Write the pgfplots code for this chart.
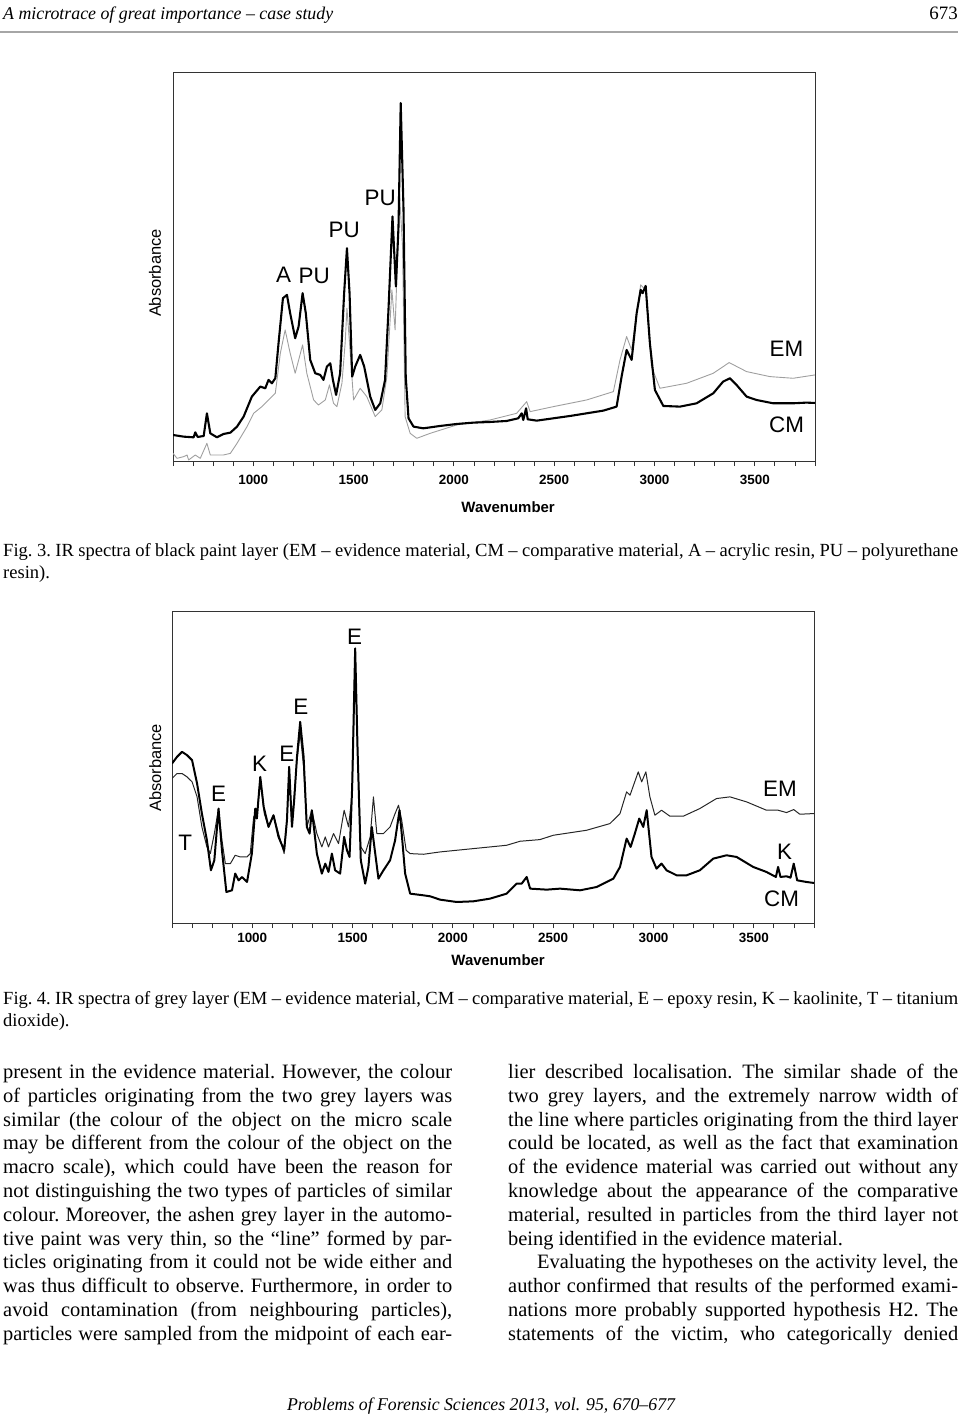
\documentclass[border=0pt]{standalone}
\usepackage{fontspec}
\setmainfont{Liberation Serif}
\newfontfamily\arial{Liberation Sans}
\usepackage{graphicx}
\usepackage{pgfplots}
\pgfplotsset{compat=1.18}

\newcommand\bodyfont{\fontsize{20.5}{24}\selectfont\frenchspacing}
\newcommand\capfont{\fontsize{18.6}{22}\selectfont\frenchspacing}
\newcommand\lbl{\arial\fontsize{22.5}{22}\selectfont}
% one justified text line: x, baseline y (px from top), width, text
\newcommand\jline[4]{\node[anchor=base west,inner sep=0pt] at (#1bp,-#2bp) {\bodyfont\makebox[#3bp][s]{#4}};}
\newcommand\pline[3]{\node[anchor=base west,inner sep=0pt] at (#1bp,-#2bp) {\bodyfont #3};}

\pgfplotsset{
  spectrum/.style={
    scale only axis, width=642bp, xmin=600, xmax=3800, ymin=0,
    axis line style={gray!40!black, line width=0.8pt},
    xtick={1000,1500,...,3500}, minor xtick={600,700,...,3800},
    xtick pos=lower, ytick=\empty, tick align=outside,
    major tick length=5bp, minor tick length=5bp,
    tick style={gray!40!black, line width=0.8pt},
    /pgf/number format/1000 sep={},
    /pgf/number format/assume math mode=true,
    ticklabel style={font=\arial\bfseries\fontsize{13.5}{14}\selectfont},
    xlabel={Wavenumber}, ylabel={Absorbance},
    xlabel style={font=\arial\bfseries\fontsize{15}{16}\selectfont, anchor=center},
    ylabel style={font=\arial\fontsize{16.5}{17}\selectfont, anchor=center},
    every axis plot/.append style={no markers, line join=round},
  },
  em1/.style={gray!75, line width=0.9pt},
  cm1/.style={black, line width=2.1pt},
  em2/.style={black!85, line width=1.0pt},
  cm2/.style={black, line width=2.0pt},
}

\begin{document}
\begin{tikzpicture}
\path[use as bounding box] (0,0) rectangle (960bp,-1417bp);

% running head
\node[anchor=base west,inner sep=0pt] at (3bp,-19bp)
  {\fontsize{18}{20}\selectfont\itshape\resizebox{330bp}{\height}{A microtrace of great importance – case study}};
\node[anchor=base east,inner sep=0pt] at (958bp,-19bp) {\fontsize{19}{20}\selectfont 673};
\draw[gray!70, line width=1.2pt] (0bp,-32bp) -- (958bp,-32bp);

% ---------------- Fig. 3 ----------------
\begin{axis}[spectrum, at={(173bp,-461bp)}, anchor=south west,
  height=389bp, ymax=1166,
  xticklabel style={yshift=-6bp},
  xlabel style={at={(axis description cs:0.522,0)}, yshift=-46bp},
  ylabel style={at={(axis description cs:-0.028,0.483)}}]
% EM, evidence material (thin grey)
\addplot[em1] coordinates {
(600,23) (620,8) (653,13) (670,18) (678,3) (711,18) (736,8) (769,53) (786,18)
(819,18) (852,18) (886,23) (919,53) (969,103) (1002,143) (1043,163) (1076,183)
(1110,203) (1135,323) (1159,393) (1184,323) (1209,263) (1246,348) (1267,263)
(1301,183) (1325,168) (1359,183) (1380,228) (1400,173) (1417,163) (1442,233)
(1458,353) (1467,458) (1480,353) (1500,183) (1533,218) (1566,193) (1608,133)
(1641,153) (1666,253) (1691,513) (1707,393) (1729,803) (1744,643) (1757,133)
(1782,83) (1815,68) (1882,83) (2014,108) (2180,123) (2313,143) (2363,178)
(2380,148) (2496,163) (2662,183) (2795,208) (2828,303) (2861,373) (2886,333)
(2931,528) (2956,513) (2985,283) (3027,218) (3160,233) (3293,263) (3372,295)
(3459,268) (3575,253) (3691,248) (3800,258)
};
% CM, comparative material (thick black)
\addplot[cm1] coordinates {
(600,78) (653,73) (703,71) (711,86) (723,72) (753,75) (769,143) (786,83)
(819,71) (852,81) (886,85) (919,103) (952,133) (993,193) (1035,223) (1060,218)
(1076,243) (1093,233) (1110,248) (1126,353) (1148,488) (1168,498) (1184,443)
(1209,368) (1226,403) (1246,503) (1262,443) (1284,303) (1309,263) (1334,258)
(1350,243) (1367,283) (1384,293) (1397,243) (1413,198) (1433,263) (1453,503)
(1467,638) (1480,503) (1493,253) (1508,283) (1533,318) (1553,283) (1583,193)
(1608,153) (1633,173) (1657,243) (1674,453) (1694,733) (1711,523) (1724,703)
(1735,1073) (1749,753) (1760,253) (1774,128) (1799,103) (1848,98) (1931,105)
(2014,111) (2097,115) (2180,117) (2263,120) (2321,128) (2338,143) (2346,123)
(2360,158) (2368,125) (2413,121) (2496,128) (2579,135) (2662,143) (2745,151)
(2811,163) (2836,253) (2861,333) (2886,303) (2911,443) (2931,513) (2941,503)
(2956,525) (2977,353) (3002,213) (3044,165) (3127,163) (3210,173) (3293,203)
(3342,238) (3376,248) (3409,228) (3459,193) (3508,183) (3591,173) (3691,173)
(3757,175) (3800,174)
};
\node[font=\lbl] at (axis cs:1151,558) {A};
\node[font=\lbl] at (axis cs:1304,555) {PU};
\node[font=\lbl] at (axis cs:1453,693) {PU};
\node[font=\lbl] at (axis cs:1633,788) {PU};
\node[font=\lbl] at (axis cs:3658,335) {EM};
\node[font=\lbl] at (axis cs:3658,108) {CM};
\end{axis}

% caption Fig. 3
\node[anchor=base west,inner sep=0pt] at (3bp,-556bp) {\capfont\makebox[955bp][s]{Fig. 3. IR spectra of black paint layer (EM – evidence material, CM – comparative material, A – acrylic resin, PU – polyurethane}};
\node[anchor=base west,inner sep=0pt] at (3bp,-578bp) {\capfont resin).};

% ---------------- Fig. 4 ----------------
\begin{axis}[spectrum, at={(172bp,-923bp)}, anchor=south west,
  height=312bp, ymax=935,
  xticklabel style={yshift=-2bp},
  xlabel style={at={(axis description cs:0.508,0)}, yshift=-37bp},
  ylabel style={at={(axis description cs:-0.026,0.497)}}]
% EM (thin)
\addplot[em2] coordinates {
(600,433) (625,448) (650,448) (675,438) (700,423) (725,378) (749,288) (774,228)
(791,208) (811,268) (832,343) (849,248) (866,178) (891,178) (915,203) (940,198)
(974,198) (990,208) (1007,318) (1023,328) (1040,428) (1060,328) (1081,288)
(1106,323) (1131,268) (1159,208) (1173,308) (1184,458) (1198,298) (1223,488)
(1239,568) (1256,468) (1272,288) (1297,338) (1322,268) (1347,228) (1364,258)
(1380,228) (1405,268) (1430,238) (1458,338) (1480,288) (1498,388) (1513,818)
(1525,508) (1541,228) (1563,208) (1588,258) (1604,378) (1621,268) (1654,268)
(1687,288) (1712,328) (1729,353) (1745,308) (1767,218) (1787,208) (1853,206)
(1936,213) (2102,223) (2268,233) (2335,245) (2434,250) (2501,263) (2667,278)
(2783,298) (2833,328) (2866,393) (2883,383) (2924,453) (2941,423) (2962,453)
(2982,378) (3007,323) (3040,338) (3082,320) (3148,320) (3231,343) (3314,373)
(3381,378) (3464,363) (3563,338) (3621,338) (3663,331) (3699,340) (3729,326)
(3800,328)
};
% CM (thick)
\addplot[cm2] coordinates {
(600,478) (625,498) (650,513) (675,503) (700,488) (725,418) (749,328) (774,248)
(794,158) (811,188) (832,343) (849,218) (871,93) (899,98) (915,148) (932,128)
(949,138) (974,123) (998,208) (1015,343) (1023,313) (1040,438) (1057,348)
(1081,288) (1106,323) (1131,258) (1159,218) (1173,308) (1184,468) (1198,288)
(1209,368) (1223,498) (1239,603) (1256,498) (1272,288) (1286,268) (1297,338)
(1309,278) (1322,208) (1347,148) (1364,178) (1380,153) (1397,208) (1413,158)
(1438,148) (1458,258) (1472,218) (1485,198) (1498,408) (1513,823) (1525,518)
(1541,188) (1563,118) (1579,168) (1596,288) (1613,208) (1629,133) (1654,158)
(1687,188) (1712,248) (1734,338) (1745,268) (1762,148) (1787,88) (1853,83)
(1887,80) (1936,70) (2019,63) (2102,65) (2185,73) (2268,88) (2318,118)
(2343,118) (2368,138) (2385,103) (2468,100) (2534,103) (2634,98) (2717,108)
(2800,133) (2833,168) (2866,253) (2886,228) (2907,268) (2929,313) (2949,288)
(2966,338) (2990,198) (3015,163) (3040,178) (3065,158) (3115,143) (3165,143)
(3231,158) (3298,193) (3364,203) (3414,198) (3497,168) (3563,153) (3610,138)
(3621,168) (3633,138) (3663,140) (3683,136) (3699,178) (3716,128) (3762,123)
(3800,120)
};
\node[font=\lbl] at (axis cs:666,241) {T};
\node[font=\lbl] at (axis cs:832,386) {E};
\node[font=\lbl] at (axis cs:1037,478) {K};
\node[font=\lbl] at (axis cs:1173,506) {E};
\node[font=\lbl] at (axis cs:1242,648) {E};
\node[font=\lbl] at (axis cs:1510,858) {E};
\node[font=\lbl] at (axis cs:3630,403) {EM};
\node[font=\lbl] at (axis cs:3654,213) {K};
\node[font=\lbl] at (axis cs:3638,73) {CM};
\end{axis}

% caption Fig. 4
\node[anchor=base west,inner sep=0pt] at (3bp,-1004bp) {\capfont\makebox[955bp][s]{Fig. 4. IR spectra of grey layer (EM – evidence material, CM – comparative material, E – epoxy resin, K – kaolinite, T – titanium}};
\node[anchor=base west,inner sep=0pt] at (3bp,-1026bp) {\capfont dioxide).};

% body text, left column
\jline{3}{1078.5}{449}{present in the evidence material. However, the colour}
\jline{3}{1102.3}{449}{of particles originating from the two grey layers was}
\jline{3}{1126.1}{449}{similar (the colour of the object on the micro scale}
\jline{3}{1149.9}{449}{may be different from the colour of the object on the}
\jline{3}{1173.7}{449}{macro scale), which could have been the reason for}
\jline{3}{1197.5}{449}{not distinguishing the two types of particles of similar}
\jline{3}{1221.3}{449}{colour. Moreover, the ashen grey layer in the automo-}
\jline{3}{1245.1}{449}{tive paint was very thin, so the “line” formed by par-}
\jline{3}{1268.9}{449}{ticles originating from it could not be wide either and}
\jline{3}{1292.7}{449}{was thus difficult to observe. Furthermore, in order to}
\jline{3}{1316.5}{449}{avoid contamination (from neighbouring particles),}
\jline{3}{1340.3}{449}{particles were sampled from the midpoint of each ear-}

% body text, right column
\jline{508}{1078.5}{450}{lier described localisation. The similar shade of the}
\jline{508}{1102.3}{450}{two grey layers, and the extremely narrow width of}
\jline{508}{1126.1}{450}{the line where particles originating from the third layer}
\jline{508}{1149.9}{450}{could be located, as well as the fact that examination}
\jline{508}{1173.7}{450}{of the evidence material was carried out without any}
\jline{508}{1197.5}{450}{knowledge about the appearance of the comparative}
\jline{508}{1221.3}{450}{material, resulted in particles from the third layer not}
\pline{508}{1245.1}{being identified in the evidence material.}
\jline{537}{1268.9}{421}{Evaluating the hypotheses on the activity level, the}
\jline{508}{1292.7}{450}{author confirmed that results of the performed exami-}
\jline{508}{1316.5}{450}{nations more probably supported hypothesis H2. The}
\jline{508}{1340.3}{450}{statements of the victim, who categorically denied}

% running foot
\node[anchor=base,inner sep=0pt] at (481bp,-1410bp)
  {\fontsize{18}{20}\selectfont\itshape\resizebox{388bp}{\height}{Problems of Forensic Sciences 2013, vol. 95, 670–677}};
\end{tikzpicture}
\end{document}
